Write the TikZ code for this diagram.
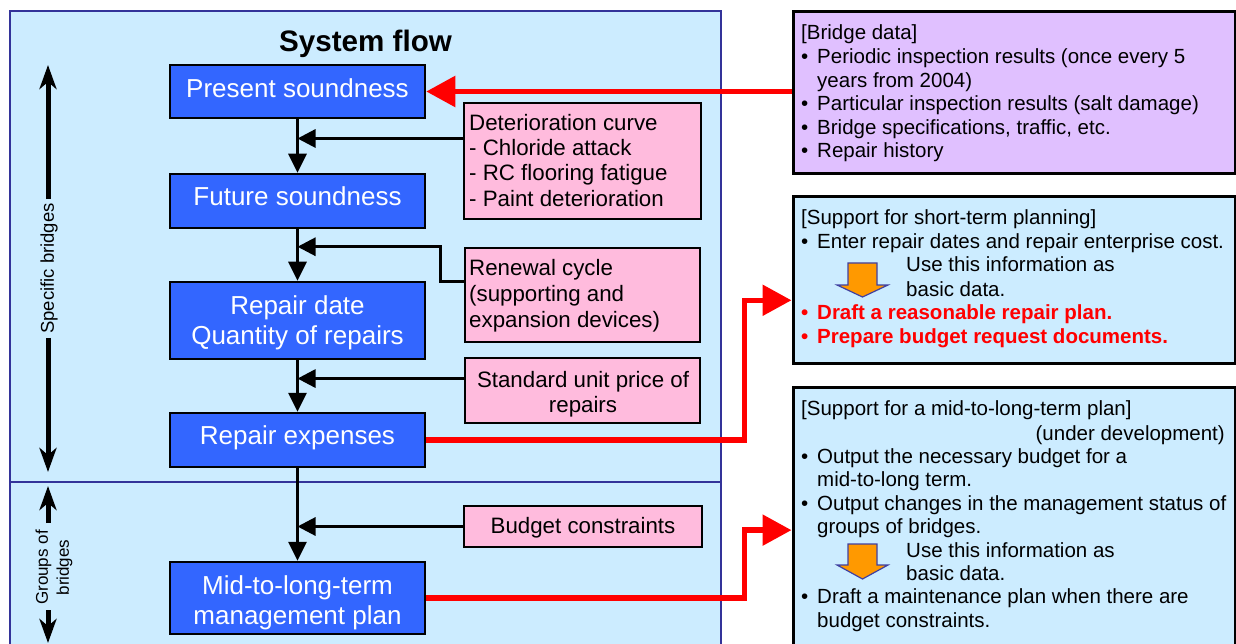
\documentclass[tikz,border=0pt]{standalone}
\usepackage{fontspec}
\setmainfont{Liberation Sans}
\usetikzlibrary{arrows.meta,calc}

\definecolor{panel}{HTML}{CCECFF}
\definecolor{panelline}{HTML}{333399}
\definecolor{stepblue}{HTML}{3366FF}
\definecolor{inputpink}{HTML}{FFBBDD}
\definecolor{datalilac}{HTML}{E0C0FF}
\definecolor{hotred}{HTML}{FF0000}
\definecolor{orangefill}{HTML}{FF9900}
\definecolor{orangeline}{HTML}{4040A0}

\newcommand{\bul}{\makebox[16pt][l]{•}}

\begin{document}
\begin{tikzpicture}[x=1pt,y=-1pt,
  stepbox/.style={draw=black, line width=2.5pt, fill=stepblue, text=white,
    minimum width=255pt, inner sep=0pt, align=center,
    font=\fontsize{26}{30}\selectfont},
  oneline/.style={text height=17.5pt, text depth=8.5pt},
  inbox/.style={draw=black, line width=2.5pt, fill=inputpink, inner sep=0pt},
  infobox/.style={draw=black, line width=3pt, inner sep=0pt, minimum width=442pt},
  pinktxt/.style={anchor=base west, inner sep=0pt, font=\fontsize{22.3}{25}\selectfont},
  pinkmid/.style={pinktxt, anchor=base},
  infotxt/.style={anchor=base west, inner sep=0pt, font=\fontsize{20.5}{24}\selectfont},
  hottxt/.style={infotxt, text=hotred, font=\fontsize{20.5}{24}\selectfont\bfseries},
  flow/.style={draw=black, line width=3pt, -{Triangle[length=19pt,width=18pt]}},
  feed/.style={draw=black, line width=3pt, -{Triangle[length=18pt,width=18pt]}},
  redarrow/.style={draw=hotred, line width=5.5pt, -{Triangle[length=29pt,width=30pt]}},
  scopearrow/.style={draw=black, line width=5pt, -{Stealth[length=24pt,width=17pt,inset=7pt]}},
  sidelabel/.style={rotate=90, inner sep=4pt, align=center},
  orangearrow/.style={fill=orangefill, draw=orangeline, line width=1.2pt, line join=miter}
]
\clip (0,0) rectangle (1236,644);

% left panel with the two scopes
\draw[draw=panelline, fill=panel, line width=2pt] (10,11) rectangle (721,660);
\draw[draw=panelline, line width=2pt] (10,482) -- (721,482);

\node[anchor=base west, inner sep=0pt, font=\fontsize{29.6}{34}\selectfont\bfseries] (title) at (279,52) {System flow};

% main flow steps
\node[stepbox, oneline, minimum height=53pt, text depth=6pt] (present) at (297.5,91.5) {Present soundness};
\node[stepbox, oneline, minimum height=54pt] (future) at (297.5,201) {Future soundness};
\node[stepbox, minimum height=77pt] (repdate) at (297.5,320.5) {\rule{0pt}{23pt}Repair date\\Quantity of repairs};
\node[stepbox, oneline, minimum height=54pt] (expenses) at (297.5,440) {Repair expenses};
\node[stepbox, minimum height=72pt] (midlong) at (297.5,598) {\rule{0pt}{29pt}Mid-to-long-term\\management plan};

\draw[flow] (present.south) -- (future.north);
\draw[flow] (future.south) -- (repdate.north);
\draw[flow] (repdate.south) -- (expenses.north);
\draw[flow] (expenses.south) -- (midlong.north);

% inputs to the flow
\node[inbox, minimum width=237pt, minimum height=116pt] (deter) at (582.5,161) {};
\node[pinktxt] (deterA) at (469,131) {Deterioration curve};
\node[pinktxt] (deterB) at (469,156) {- Chloride attack};
\node[pinktxt] (deterC) at (469,181) {- RC flooring fatigue};
\node[pinktxt] (deterD) at (469,207) {- Paint deterioration};

\node[inbox, minimum width=235pt, minimum height=94pt] (renewal) at (582.5,295) {};
\node[pinktxt] (renewA) at (469,276) {Renewal cycle};
\node[pinktxt] (renewB) at (469,301) {(supporting and};
\node[pinktxt] (renewC) at (469,327) {expansion devices)};

\node[inbox, minimum width=235pt, minimum height=65pt] (unitprice) at (582.5,390.5) {};
\node[pinkmid] (unitA) at (583,387) {Standard unit price of};
\node[pinkmid] (unitB) at (583,412) {repairs};

\node[inbox, minimum width=238pt, minimum height=41pt] (budget) at (583,526.5) {};
\node[pinkmid] (budgetA) at (583,533) {Budget constraints};

\draw[feed] ($(deter.north west)!0.31!(deter.south west)$) coordinate (d1) -- (d1 -| present.south);
\draw[feed] ($(renewal.north west)!0.362!(renewal.south west)$) -- ++(-23,0) |- (future.south |- renewal.north);
\draw[feed] ($(unitprice.north west)!0.323!(unitprice.south west)$) coordinate (u1) -- (u1 -| repdate.south);
\draw[feed] (budget.west) -- (budget.west -| expenses.south);

% scope markers on the left edge
\node[sidelabel, font=\fontsize{18.5}{22}\selectfont] (spec) at (49,268.5) {Specific bridges};
\coordinate (specTop) at (48,65);
\coordinate (specBot) at (48,472);
\draw[scopearrow] (spec.east -| specTop) -- (specTop);
\draw[scopearrow] (spec.west -| specBot) -- (specBot);

\node[sidelabel, font=\fontsize{17}{21}\selectfont] (groups) at (54,567.5) {Groups of\\bridges};
\coordinate (grpTop) at (48,486);
\coordinate (grpBot) at (48,643);
\draw[scopearrow] (48,523) -- (grpTop);
\draw[scopearrow] (48,610) -- (grpBot);

% bridge data
\node[infobox, fill=datalilac, minimum height=162pt] (bridge) at (1014,93) {};
\node[infotxt] (bdA) at (801,40) {[Bridge data]};
\node[infotxt] (bdB) at (801,64) {\bul Periodic inspection results (once every 5};
\node[infotxt] (bdC) at (817,88) {years from 2004)};
\node[infotxt] (bdD) at (801,111) {\bul Particular inspection results (salt damage)};
\node[infotxt] (bdE) at (801,135) {\bul Bridge specifications, traffic, etc.};
\node[infotxt] (bdF) at (801,158) {\bul Repair history};

% short-term support
\node[infobox, fill=panel, minimum height=166pt] (short) at (1014,280) {};
\node[infotxt] (stA) at (801,225) {[Support for short-term planning]};
\node[infotxt] (stB) at (801,249) {\bul Enter repair dates and repair enterprise cost.};
\node[infotxt] (stC) at (906,272) {Use this information as};
\node[infotxt] (stD) at (906,296) {basic data.};
\node[hottxt] (stE) at (801,319) {\bul Draft a reasonable repair plan.};
\node[hottxt] (stF) at (801,343) {\bul Prepare budget request documents.};
\draw[orangearrow] (848,263) -- (877,263) -- (877,285) -- (888,285) -- (862.5,297) -- (837,285) -- (848,285) -- cycle;

% mid-to-long-term support
\node[infobox, fill=panel, minimum height=273pt] (midplan) at (1014,523.5) {};
\node[infotxt] (mpA) at (801,415) {[Support for a mid-to-long-term plan]};
\node[infotxt, anchor=base east] (mpB) at (1225,440) {(under development)};
\node[infotxt] (mpC) at (801,463) {\bul Output the necessary budget for a};
\node[infotxt] (mpD) at (817,486) {mid-to-long term.};
\node[infotxt] (mpE) at (801,510) {\bul Output changes in the management status of};
\node[infotxt] (mpF) at (817,533) {groups of bridges.};
\node[infotxt] (mpG) at (906,557) {Use this information as};
\node[infotxt] (mpH) at (906,580) {basic data.};
\node[infotxt] (mpI) at (801,603) {\bul Draft a maintenance plan when there are};
\node[infotxt] (mpJ) at (817,627) {budget constraints.};
\draw[orangearrow] (848,544) -- (877,544) -- (877,565) -- (888,565) -- (862.5,579) -- (837,565) -- (848,565) -- cycle;

% data and result links
\draw[redarrow] (bridge.west |- present.east) -- (present.east);
\draw[redarrow] (expenses.east) -- ++(318,0) |- ($(short.north west)!0.62!(short.south west)$);
\draw[redarrow] (midlong.east) -- ++(318,0) |- ($(midplan.north west)!0.524!(midplan.south west)$);
\end{tikzpicture}
\end{document}
